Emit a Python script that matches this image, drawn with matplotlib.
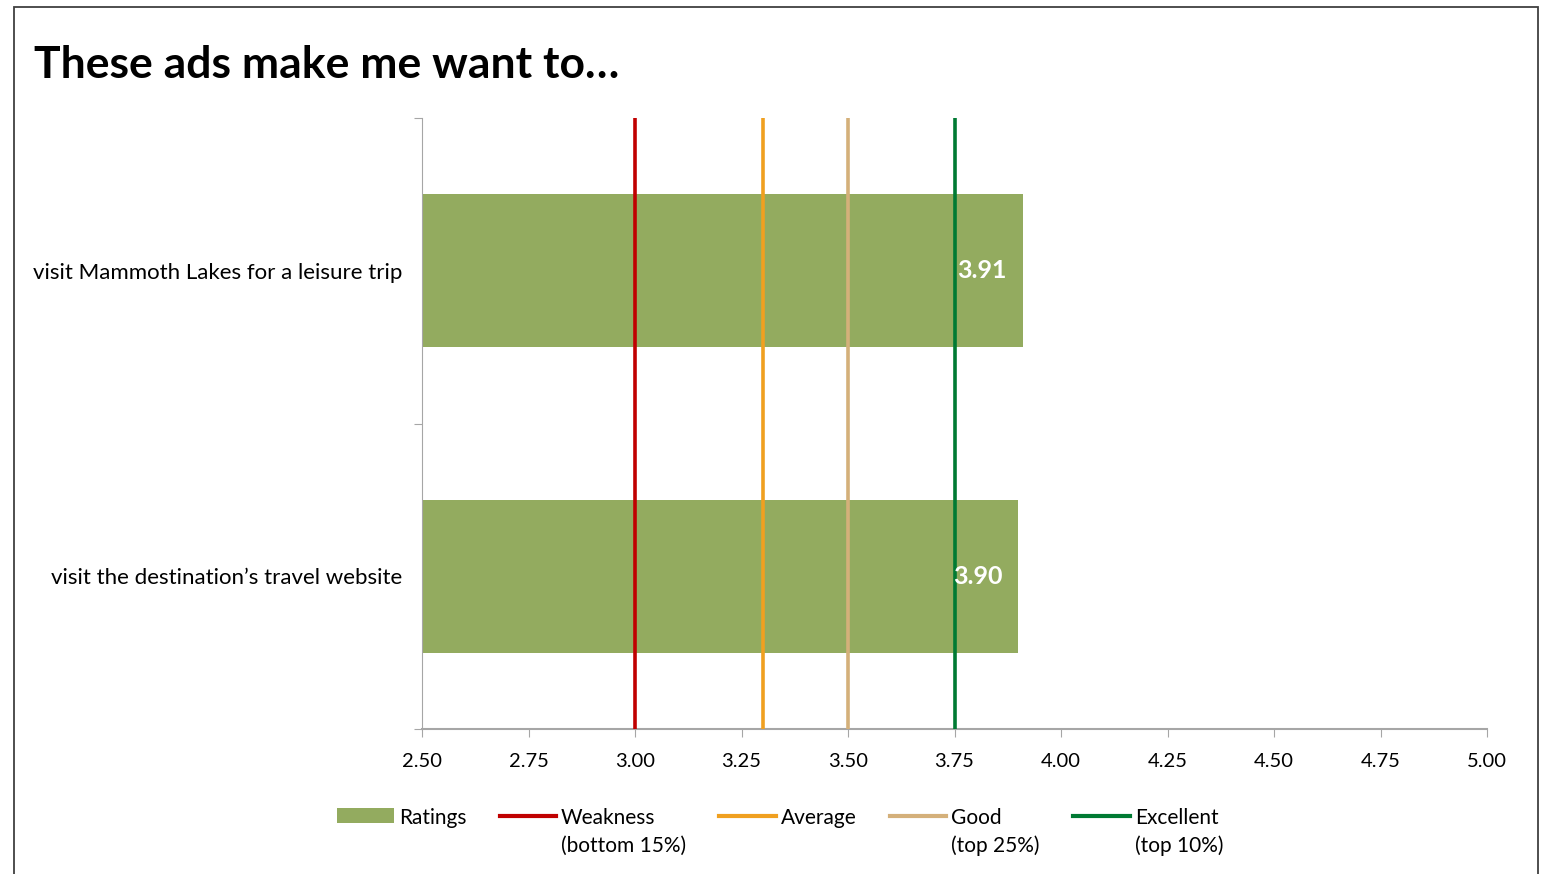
import matplotlib.pyplot as plt
from matplotlib.patches import Patch, Rectangle
from matplotlib.lines import Line2D

plt.rcParams['font.family'] = ['Lato', 'DejaVu Sans']

# Data
categories = ['visit Mammoth Lakes for a leisure trip', 'visit the destination\u2019s travel website']
ratings = [3.91, 3.90]
benchmark_names = ['Weakness\n(bottom 15%)', 'Average', 'Good\n(top 25%)', 'Excellent\n(top 10%)']
benchmark_values = [3.00, 3.30, 3.50, 3.75]
benchmark_colors = ['#c00000', '#f0a020', '#d4b07a', '#007a33']
x_ticks = [2.50, 2.75, 3.00, 3.25, 3.50, 3.75, 4.00, 4.25, 4.50, 4.75, 5.00]

bar_color = '#93ab5f'
axis_gray = '#a6a6a6'

fig = plt.figure(figsize=(15.42, 8.74), dpi=100)
ax = fig.add_axes([422 / 1542, 1 - 729 / 874, (1487 - 422) / 1542, (729 - 118) / 874])

y_pos = list(range(len(categories)))
bars = ax.barh(y_pos, ratings, height=0.5, left=0, color=bar_color, zorder=2)

for val, col in zip(benchmark_values, benchmark_colors):
    ax.axvline(val, color=col, linewidth=2.6, zorder=3)

for bar, val in zip(bars, ratings):
    ax.text(val - 0.038, bar.get_y() + bar.get_height() / 2, f'{val:.2f}',
            ha='right', va='center', color='white', fontsize=18, fontweight='bold', zorder=4)

ax.set_xlim(2.5, 5.0)
ax.set_ylim(1.5, -0.5)
ax.set_xticks(x_ticks)
ax.set_xticklabels([f'{t:.2f}' for t in x_ticks], fontsize=14.5)
ax.set_yticks([-0.5, 0.5, 1.5])
ax.set_yticklabels([])
ax.set_yticks(y_pos, minor=True)
ax.set_yticklabels(categories, minor=True, fontsize=16)
ax.tick_params(axis='y', which='minor', length=0, pad=14)
ax.tick_params(axis='y', which='major', length=6, color=axis_gray)
ax.tick_params(axis='x', length=6, color=axis_gray, pad=11)

for side in ['top', 'right']:
    ax.spines[side].set_visible(False)
for side in ['left', 'bottom']:
    ax.spines[side].set_color(axis_gray)
ax.spines['bottom'].set_linewidth(1.5)

fig.text(34 / 1542, 1 - 65 / 874, 'These ads make me want to\u2026', fontsize=32,
         fontweight='bold', ha='left', va='center')

# Legend: handles sit next to the first line of each label
handles = [Patch(facecolor=bar_color)]
handles += [Line2D([0], [0], color=c, linewidth=3) for c in benchmark_colors]
labels = ['Ratings'] + benchmark_names
leg = fig.legend(handles, labels, loc='upper center', bbox_to_anchor=(0.506, 1 - 798 / 874),
                 ncol=5, frameon=False, fontsize=15, handlelength=2.7, handletextpad=0.25,
                 columnspacing=1.6, borderpad=0)
for t in leg.get_texts():
    t.set_linespacing(1.45)
leg._legend_handle_box.align = 'top'
for col in leg._legend_handle_box.get_children():
    col.align = 'left'
    for row in col.get_children():
        row.align = 'top'

# Outer chart frame
fig.patches.append(Rectangle((14 / 1542, -0.05), (1538 - 14) / 1542, 1.05 - 7 / 874,
                             transform=fig.transFigure, fill=False, edgecolor='#404040',
                             linewidth=1.3))

fig.savefig('out.png', dpi=100, facecolor='white')
